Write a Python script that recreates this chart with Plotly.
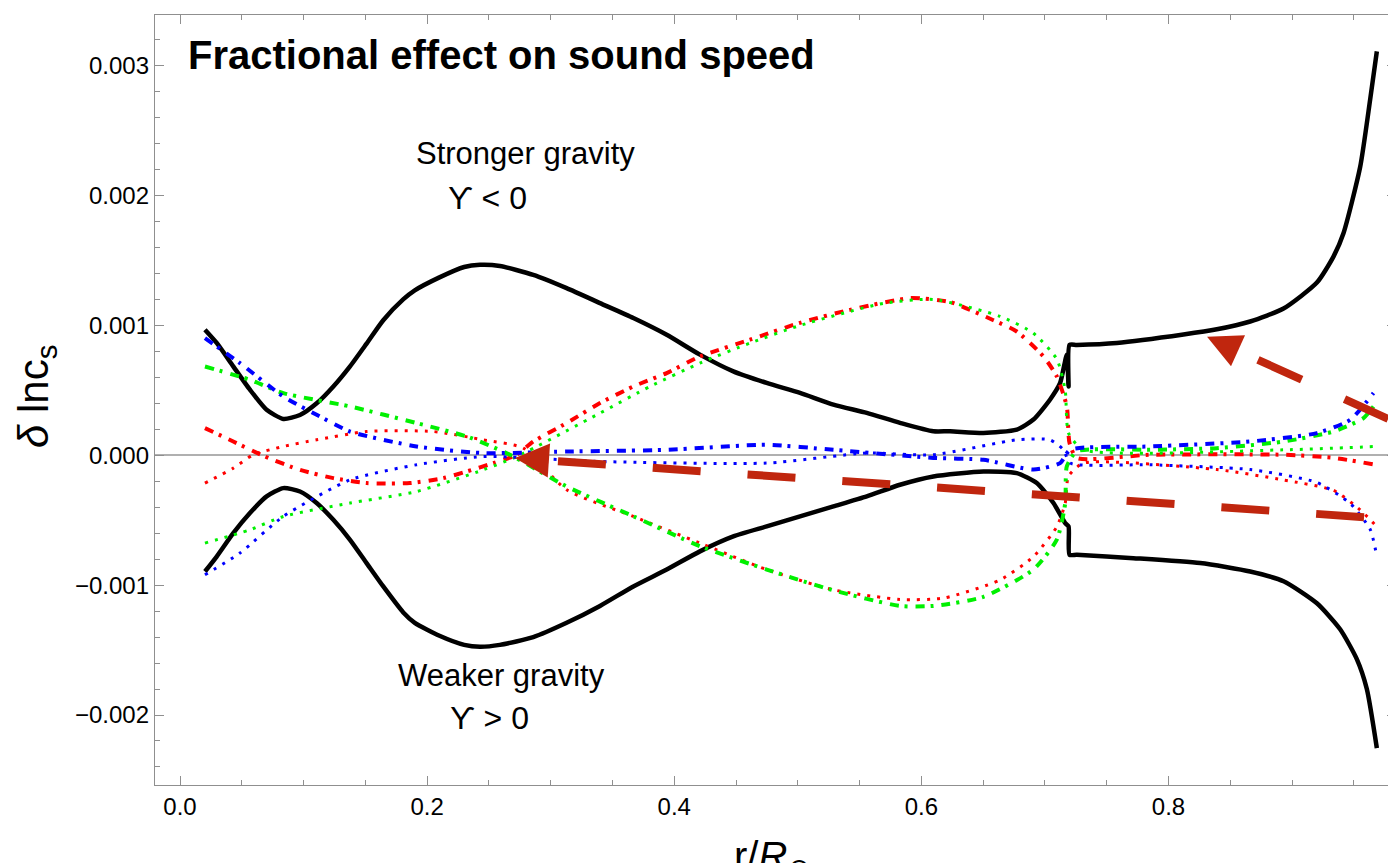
import plotly.graph_objects as go
import math

# ---------------- data ----------------
black_up_x = [0.0202, 0.0297, 0.0431, 0.0566, 0.0701, 0.0836, 0.0971, 0.1106, 0.1241, 0.1376, 0.151, 0.1645,
              0.1806, 0.19, 0.21, 0.23, 0.2428, 0.2589, 0.2859, 0.3129, 0.3399, 0.3669, 0.3939, 0.4208, 0.4478,
              0.4748, 0.5018, 0.5288, 0.5558, 0.5827, 0.6097, 0.6232, 0.6502, 0.6772, 0.6907, 0.7042, 0.7123,
              0.7177, 0.7191, 0.7199, 0.7258, 0.7582, 0.8121, 0.8391, 0.8661, 0.8931, 0.9201, 0.9335, 0.9416,
              0.9551, 0.9632, 0.9686]
black_up_y = [0.000967, 0.000865, 0.000685, 0.000505, 0.00035, 0.00028, 0.00031, 0.0004, 0.00053, 0.000685,
              0.00086, 0.00104, 0.0012, 0.00127, 0.00137, 0.00145, 0.001467, 0.001458, 0.001389, 0.001287,
              0.001172, 0.001057, 0.000928, 0.000775, 0.000646, 0.000557, 0.00048, 0.00039, 0.000326, 0.00025,
              0.000185, 0.000185, 0.000172, 0.000198, 0.000275, 0.00043, 0.000557, 0.000775, 0.00053, 0.00085,
              0.00085, 0.000865, 0.00093, 0.00097, 0.00103, 0.00113, 0.00133, 0.00153, 0.00171, 0.00222,
              0.00274, 0.00311]

black_dn_x = [0.0202, 0.0297, 0.0431, 0.0566, 0.0701, 0.0836, 0.0971, 0.1106, 0.1241, 0.1376, 0.151, 0.1645,
              0.1807, 0.19, 0.21, 0.23, 0.2428, 0.2589, 0.2859, 0.3129, 0.3399, 0.3669, 0.3939, 0.4208, 0.4478,
              0.4748, 0.5018, 0.5288, 0.5558, 0.5827, 0.6097, 0.6502, 0.6772, 0.6934, 0.7069, 0.7164, 0.7191,
              0.7199, 0.7258, 0.7716, 0.8256, 0.8661, 0.8931, 0.9201, 0.9389, 0.9524, 0.9605, 0.9686]
black_dn_y = [-0.000895, -0.00078, -0.0006, -0.000445, -0.000317, -0.000253, -0.000279, -0.000368, -0.000497,
              -0.000651, -0.00083, -0.00101, -0.00121, -0.00129, -0.00139, -0.00146, -0.001475, -0.00146,
              -0.0014, -0.00129, -0.00116, -0.00101, -0.00088, -0.00074, -0.000625, -0.000548, -0.00047,
              -0.000394, -0.000317, -0.000227, -0.000163, -0.000125, -0.000137, -0.000214, -0.000368, -0.000522,
              -0.000548, -0.000766, -0.000766, -0.000792, -0.00083, -0.000895, -0.00097, -0.00114, -0.00134,
              -0.00157, -0.0018, -0.002255]

red_dd_x = [0.0202, 0.0431, 0.0688, 0.0971, 0.1241, 0.151, 0.1861, 0.2131, 0.232, 0.2536, 0.2725, 0.2859,
            0.3129, 0.3399, 0.3669, 0.3939, 0.4208, 0.4613, 0.5018, 0.5422, 0.5908, 0.6232, 0.6583, 0.6772,
            0.6988, 0.7096, 0.7177, 0.7199, 0.7258, 0.7852, 0.8931, 0.9335, 0.9659]
red_dd_y = [0.000209, 0.000106, -0.00001, -0.000112, -0.000176, -0.000214, -0.000214, -0.000176, -0.000125,
            -0.00006, 0.000004, 0.000106, 0.000248, 0.000402, 0.00053, 0.000633, 0.000761, 0.00089, 0.00102,
            0.00112, 0.00121, 0.00118, 0.00104, 0.000953, 0.000761, 0.000607, 0.000376, 0.000094, -0.00002,
            0.000004, 0.000004, -0.00002, -0.00007]

red_dot_x = [0.0202, 0.0431, 0.0593, 0.0836, 0.1106, 0.151, 0.205, 0.2455, 0.2779, 0.3129, 0.3669, 0.4208,
             0.4748, 0.5288, 0.5827, 0.6178, 0.6637, 0.6907, 0.7096, 0.7164, 0.7191, 0.7312, 0.8391, 0.8931,
             0.9335, 0.9551, 0.9686]
red_dot_y = [-0.000214, -0.000099, 0.000004, 0.000068, 0.000119, 0.000183, 0.000183, 0.000119, 0.000055,
             -0.000266, -0.000471, -0.000676, -0.00088, -0.001036, -0.00111, -0.0011, -0.00096, -0.00078,
             -0.00055, -0.00037, -0.00016, -0.00006, -0.00011, -0.00019, -0.00027, -0.00042, -0.00055]

green_dd_x = [0.0202, 0.0566, 0.0836, 0.1376, 0.1915, 0.232, 0.2671, 0.3129, 0.3669, 0.4208, 0.4748, 0.5288,
              0.5827, 0.6097, 0.6502, 0.6907, 0.7096, 0.7164, 0.7177, 0.7258, 0.7852, 0.8391, 0.8931, 0.9335,
              0.9578, 0.9659]
green_dd_y = [0.000684, 0.000581, 0.000479, 0.000376, 0.000248, 0.000145, 0.000004, -0.00024, -0.00047,
              -0.0007, -0.00088, -0.00104, -0.00116, -0.00116, -0.00109, -0.00088, -0.00065, -0.00037,
              -0.000086, 0.00003, 0.000042, 0.000055, 0.000106, 0.000183, 0.000286, 0.000376]

green_dot_x = [0.0202, 0.0566, 0.0836, 0.1376, 0.1915, 0.2455, 0.2725, 0.3399, 0.3804, 0.4208, 0.4613, 0.5018,
               0.5692, 0.6097, 0.6637, 0.6907, 0.7096, 0.7164, 0.7191, 0.7312, 0.8931, 0.9686]
green_dot_y = [-0.000676, -0.000574, -0.000471, -0.000368, -0.000279, -0.000112, -0.00001, 0.000325, 0.00053,
               0.00071, 0.000864, 0.001, 0.00117, 0.0012, 0.00107, 0.00094, 0.00074, 0.0005, 0.00017, 0.000042,
               0.000042, 0.000068]

blue_dd_x = [0.0202, 0.0485, 0.0836, 0.1106, 0.1376, 0.1915, 0.2455, 0.3129, 0.3939, 0.4748, 0.5288, 0.6097,
             0.6502, 0.6907, 0.7123, 0.7204, 0.7852, 0.8661, 0.9201, 0.947, 0.9659]
blue_dd_y = [0.000902, 0.00071, 0.000453, 0.000312, 0.000183, 0.000068, 0.000017, 0.000029, 0.000042,
             0.000081, 0.000042, -0.00002, -0.000035, -0.00011, -0.00006, 0.000042, 0.000068, 0.000106,
             0.000171, 0.000273, 0.000479]

blue_dot_x = [0.0202, 0.0485, 0.0836, 0.1376, 0.1915, 0.2455, 0.3399, 0.4748, 0.5558, 0.6097, 0.6772, 0.7042,
              0.715, 0.7204, 0.7852, 0.8661, 0.9201, 0.947, 0.9632, 0.9686]
blue_dot_y = [-0.00092, -0.000753, -0.000471, -0.000189, -0.000073, -0.00001, -0.000048, -0.00006, 0.000017,
              0.000004, 0.000119, 0.000119, 0.000042, -0.00006, -0.000073, -0.00011, -0.00021, -0.00037,
              -0.00057, -0.00078]

# axis ticks
x_tick_vals = [0.0, 0.2, 0.4, 0.6, 0.8]
y_tick_vals = [-0.002, -0.001, 0.0, 0.001, 0.002, 0.003]

# annotation arrows (data units): tip, start of dashed shaft, tail
arrow1_tip = (0.8312, 0.000913)
arrow1_start = (0.8724, 0.000735)
arrow1_tail = (1.0197, 0.0000993)
arrow2_tip = (0.2711, -0.0000216)
arrow2_start = (0.3059, -0.0000462)
arrow2_tail = (0.9647, -0.000481)

# ---------------- layout geometry ----------------
OFF = 8  # default page body margin
W, H = 1396 - OFF, 863 - OFF
ML, MT = 155 - OFF, 15 - OFF
PW, PH = 1241, 770
MR = W - ML - PW
MB = H - MT - PH
XR = [-0.02023, 0.98411]
YR = [-0.002539, 0.0033904]
SX = PW / (XR[1] - XR[0])
SY = PH / (YR[1] - YR[0])

FONT = "Liberation Sans, Arial, DejaVu Sans"
ARROW_COLOR = "rgb(192,38,14)"


def pxx(px):  # screen pixel -> paper x
    return (px - OFF - ML) / PW


def pxy(py):  # screen pixel -> paper y
    return (MT + PH - (py - OFF)) / PH


fig = go.Figure()

DD = "9px,6px,3px,8px"
DOT = "3px,7px"
traces = [
    (black_up_x, black_up_y, "black", 4.5, "solid"),
    (black_dn_x, black_dn_y, "black", 4.5, "solid"),
    (red_dd_x, red_dd_y, "rgb(255,0,0)", 4, DD),
    (red_dot_x, red_dot_y, "rgb(255,0,0)", 3, DOT),
    (green_dd_x, green_dd_y, "rgb(0,240,0)", 4, DD),
    (green_dot_x, green_dot_y, "rgb(0,240,0)", 3, DOT),
    (blue_dd_x, blue_dd_y, "rgb(0,0,255)", 4, DD),
    (blue_dot_x, blue_dot_y, "rgb(0,0,255)", 3, DOT),
]
for xs, ys, c, w, d in traces:
    fig.add_trace(go.Scatter(x=xs, y=ys, mode="lines",
                             line=dict(color=c, width=w, dash=d, shape="spline", smoothing=0.6),
                             showlegend=False, hoverinfo="skip"))


# arrows: dashed shafts + triangular heads
def head_path(tip, tail, length=34.0, width=34.0):
    dx = (tip[0] - tail[0]) * SX
    dy = -(tip[1] - tail[1]) * SY
    n = math.hypot(dx, dy)
    ux, uy = dx / n, dy / n
    nx, ny = -uy, ux
    bx, by = -length * ux, -length * uy
    pts = [(0.0, 0.0), (bx + nx * width / 2, by + ny * width / 2), (bx - nx * width / 2, by - ny * width / 2)]
    coords = [(tip[0] + px / SX, tip[1] - py / SY) for px, py in pts]
    return "M {} {} L {} {} L {} {} Z".format(*[v for p in coords for v in p])


for tip, start, tail in [(arrow1_tip, arrow1_start, arrow1_tail), (arrow2_tip, arrow2_start, arrow2_tail)]:
    fig.add_shape(type="line", xref="x", yref="y", x0=start[0], y0=start[1], x1=tail[0], y1=tail[1],
                  line=dict(color=ARROW_COLOR, width=8, dash="48px,47px"), layer="above")
    fig.add_shape(type="path", xref="x", yref="y", path=head_path(tip, tail),
                  fillcolor=ARROW_COLOR, line=dict(width=0), layer="above")

# text annotations
ann = [
    dict(text="<b>Fractional effect on sound speed</b>", x=pxx(186), y=pxy(54.7), xanchor="left",
         yanchor="middle", font=dict(size=40)),
    dict(text="Stronger gravity", x=pxx(525.5), y=pxy(153.3), xanchor="center", yanchor="middle",
         font=dict(size=31)),
    dict(text="ϒ &lt; 0", x=pxx(487.5), y=pxy(197.8), xanchor="center", yanchor="middle",
         font=dict(size=32)),
    dict(text="Weaker gravity", x=pxx(501), y=pxy(675), xanchor="center", yanchor="middle",
         font=dict(size=31)),
    dict(text="ϒ &gt; 0", x=pxx(489.5), y=pxy(717.5), xanchor="center", yanchor="middle",
         font=dict(size=32)),
    dict(text="<i>δ</i> lnc<sub>s</sub>", x=pxx(36), y=pxy(397), xanchor="center", yanchor="middle",
         textangle=-90, font=dict(size=42)),
    dict(text="r/<i>R</i><sub>⊙</sub>", x=pxx(772), y=pxy(832), xanchor="center", yanchor="top",
         font=dict(size=40)),
]
for a in ann:
    a["font"]["family"] = FONT
    a["font"]["color"] = "black"
    fig.add_annotation(xref="paper", yref="paper", showarrow=False, **a)

axis_common = dict(showline=True, linecolor="#8f8f8f", linewidth=1.3, mirror="ticks", ticks="inside",
                   tickcolor="#8f8f8f", tickwidth=1.3, ticklen=9, showgrid=False,
                   tickfont=dict(family=FONT, size=24, color="black"))
fig.update_xaxes(range=XR, tickvals=x_tick_vals, ticktext=[f"{v:.1f}" for v in x_tick_vals],
                 zeroline=False,
                 minor=dict(ticks="inside", ticklen=5, tickcolor="#8f8f8f", tickwidth=1.3, dtick=0.05, tick0=0,
                            showgrid=False),
                 **axis_common)
fig.update_yaxes(range=YR, tickvals=y_tick_vals,
                 ticktext=[("−" if v < 0 else "") + f"{abs(v):.3f}" for v in y_tick_vals],
                 zeroline=True, zerolinecolor="#b0b0b0", zerolinewidth=1.5,
                 minor=dict(ticks="inside", ticklen=5, tickcolor="#8f8f8f", tickwidth=1.3, dtick=0.0002,
                            tick0=0, showgrid=False),
                 **axis_common)

fig.update_layout(width=W, height=H, margin=dict(l=ML, r=MR, t=MT, b=MB, pad=0, autoexpand=False),
                  plot_bgcolor="white", paper_bgcolor="white", showlegend=False)

fig.write_html("out.html")
